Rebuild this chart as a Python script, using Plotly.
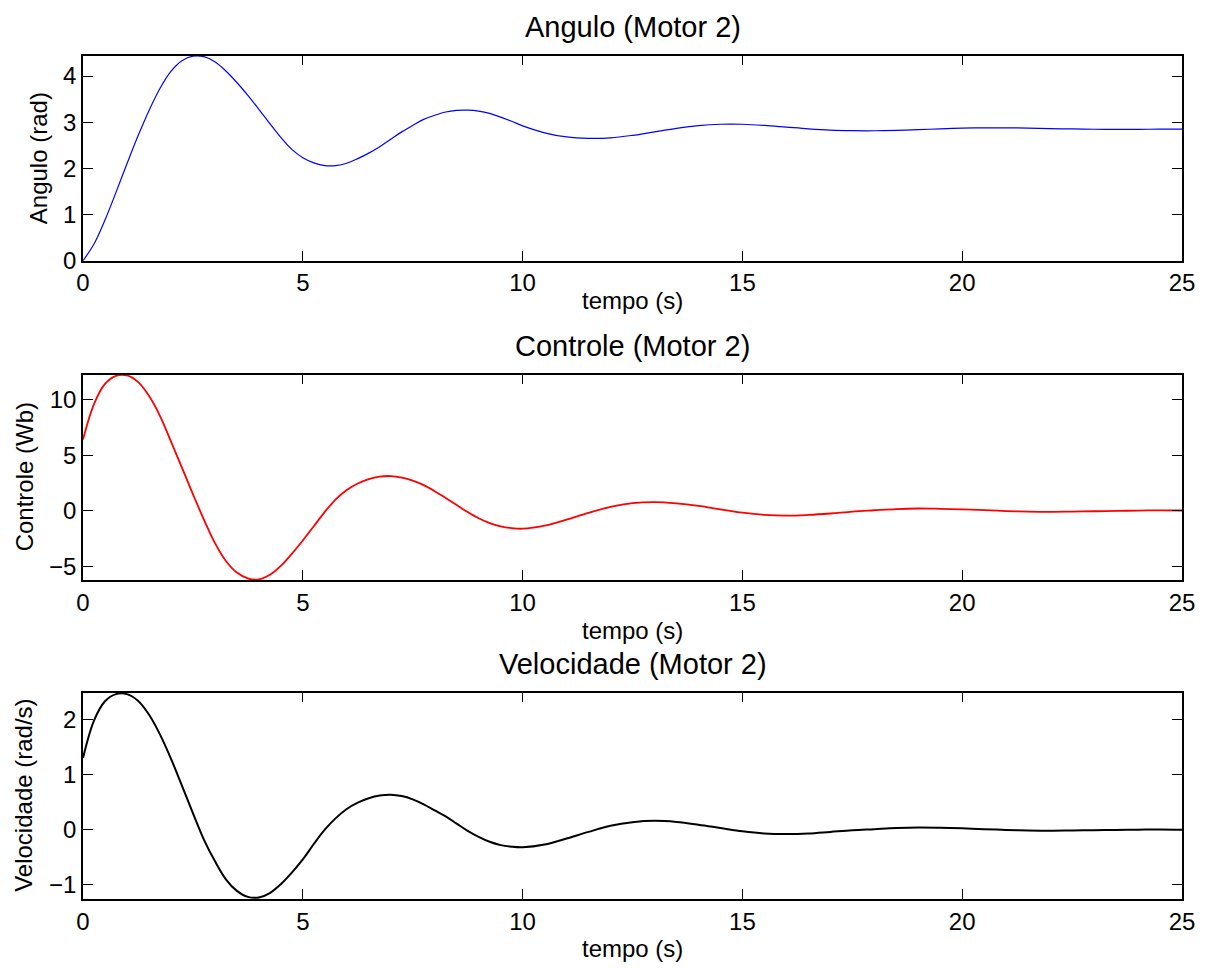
import plotly.graph_objects as go

# ---------------- data ----------------
# time samples: 0.25 s up to 10 s, 0.5 s afterwards
tempo = [0, 0.25, 0.5, 0.75, 1.0, 1.25, 1.5, 1.75, 2.0, 2.25, 2.5, 2.75, 3.0, 3.25, 3.5,
         3.75, 4.0, 4.25, 4.5, 4.75, 5.0, 5.25, 5.5, 5.75, 6.0, 6.25, 6.5, 6.75, 7.0,
         7.25, 7.5, 7.75, 8.0, 8.25, 8.5, 8.75, 9.0, 9.25, 9.5, 9.75, 10.0, 10.5, 11.0,
         11.5, 12.0, 12.5, 13.0, 13.5, 14.0, 14.5, 15.0, 15.5, 16.0, 16.5, 17.0, 17.5,
         18.0, 18.5, 19.0, 19.5, 20.0, 20.5, 21.0, 21.5, 22.0, 22.5, 23.0, 23.5, 24.0,
         24.5, 25.0]

angulo = [0, 0.36, 0.88, 1.48, 2.10, 2.70, 3.25, 3.73, 4.10, 4.33, 4.43, 4.42, 4.31, 4.11,
          3.86, 3.58, 3.28, 2.97, 2.67, 2.41, 2.23, 2.12, 2.06, 2.06, 2.11, 2.21, 2.33,
          2.47, 2.63, 2.79, 2.93, 3.06, 3.15, 3.22, 3.255, 3.26, 3.24, 3.19, 3.11, 3.02,
          2.92, 2.77, 2.68, 2.65, 2.66, 2.715, 2.79, 2.865, 2.925, 2.955, 2.955, 2.93,
          2.893, 2.856, 2.828, 2.816, 2.814, 2.822, 2.838, 2.856, 2.87, 2.878, 2.878,
          2.872, 2.862, 2.853, 2.847, 2.844, 2.845, 2.848, 2.85]

controle = [6.41, 9.6, 11.42, 12.15, 12.18, 11.6, 10.35, 8.55, 6.25, 3.88, 1.5, -0.8,
            -2.9, -4.53, -5.57, -6.1, -6.19, -5.77, -4.97, -3.88, -2.68, -1.4, -0.1, 1.03,
            1.86, 2.45, 2.85, 3.07, 3.12, 2.98, 2.71, 2.3, 1.76, 1.15, 0.52, -0.12, -0.68,
            -1.11, -1.4, -1.57, -1.62, -1.35, -0.8, -0.2, 0.34, 0.68, 0.78, 0.66, 0.43,
            0.12, -0.18, -0.38, -0.45, -0.38, -0.25, -0.08, 0.04, 0.15, 0.2, 0.17, 0.12,
            0.05, -0.03, -0.08, -0.1, -0.08, -0.05, -0.02, 0.01, 0.03, 0.02]

velocidade = [1.30, 1.98, 2.33, 2.46, 2.46, 2.34, 2.09, 1.73, 1.29, 0.80, 0.30, -0.18,
              -0.57, -0.90, -1.11, -1.22, -1.23, -1.15, -0.99, -0.78, -0.54, -0.26, 0.0,
              0.21, 0.375, 0.49, 0.57, 0.62, 0.635, 0.61, 0.55, 0.46, 0.35, 0.24, 0.11,
              -0.02, -0.13, -0.22, -0.28, -0.31, -0.32, -0.27, -0.16, -0.04, 0.07, 0.135,
              0.16, 0.14, 0.09, 0.03, -0.03, -0.07, -0.08, -0.07, -0.04, -0.01, 0.01,
              0.03, 0.04, 0.035, 0.025, 0.01, -0.005, -0.015, -0.02, -0.015, -0.01,
              -0.005, 0.0, 0.005, 0.0]

x_ticks = [0, 5, 10, 15, 20, 25]
ang_ticks = [0, 1, 2, 3, 4]
ctl_ticks = [-5, 0, 5, 10]
vel_ticks = [-1, 0, 1, 2]

titles = ["Angulo (Motor 2)", "Controle (Motor 2)", "Velocidade (Motor 2)"]
ylabels = ["Angulo (rad)", "Controle (Wb)", "Velocidade (rad/s)"]
xlabel = "tempo (s)"

# ---------------- figure ----------------
FONT = "Liberation Sans, Arial, Helvetica, sans-serif"
W, H = 1207, 968

fig = go.Figure()
fig.add_trace(go.Scatter(x=tempo, y=angulo, mode="lines",
                         line=dict(color="#0000ff", width=1.2, shape="spline"),
                         xaxis="x", yaxis="y", showlegend=False))
fig.add_trace(go.Scatter(x=tempo, y=controle, mode="lines",
                         line=dict(color="#ff0000", width=1.8, shape="spline"),
                         xaxis="x2", yaxis="y2", showlegend=False))
fig.add_trace(go.Scatter(x=tempo, y=velocidade, mode="lines",
                         line=dict(color="#000000", width=2.0, shape="spline"),
                         xaxis="x3", yaxis="y3", showlegend=False))

x_left, x_right = 83, 1182
panels = [(55.7, 260.7), (374.7, 580.0), (692.7, 899.0)]
yranges = [[0, 4.44], [-6.24, 12.25], [-1.258, 2.486]]
yticks = [ang_ticks, ctl_ticks, vel_ticks]
xlab_off = [40, 50, 49]
ylab_x = [38, 24, 24]

common = dict(ticks="inside", ticklen=10, tickwidth=1, tickcolor="black",
              showline=True, linecolor="black", linewidth=1.5, mirror="ticks",
              showgrid=False, zeroline=False, automargin=False,
              tickfont=dict(family=FONT, size=24, color="black"))

layout = dict(template="none", width=W, height=H,
              margin=dict(l=0, r=0, t=0, b=0, pad=0, autoexpand=False),
              paper_bgcolor="white", plot_bgcolor="white",
              font=dict(family=FONT, color="black"), showlegend=False)

ann = []
for i, ((top, bot), yr, yt) in enumerate(zip(panels, yranges, yticks)):
    sfx = "" if i == 0 else str(i + 1)
    dom_y = [1 - bot / H, 1 - top / H]
    layout["xaxis" + sfx] = dict(domain=[x_left / W, x_right / W], range=[0, 25],
                                 tickmode="array", tickvals=x_ticks,
                                 anchor="y" + sfx, **common)
    layout["yaxis" + sfx] = dict(domain=dom_y, range=yr, tickmode="array", tickvals=yt,
                                 anchor="x" + sfx, **common)
    ann.append(dict(text=titles[i], x=(x_left + x_right) / 2 / W, y=1 - (top - 29) / H,
                    xref="paper", yref="paper", xanchor="center", yanchor="middle",
                    showarrow=False, font=dict(family=FONT, size=29, color="black")))
    ann.append(dict(text=xlabel, x=(x_left + x_right) / 2 / W, y=1 - (bot + xlab_off[i]) / H,
                    xref="paper", yref="paper", xanchor="center", yanchor="middle",
                    showarrow=False, font=dict(family=FONT, size=24, color="black")))
    ann.append(dict(text=ylabels[i], x=ylab_x[i] / W, y=1 - (top + bot) / 2 / H,
                    xref="paper", yref="paper", xanchor="center", yanchor="middle",
                    textangle=-90, showarrow=False,
                    font=dict(family=FONT, size=24, color="black")))

layout["annotations"] = ann
fig.update_layout(**layout)
fig.write_html("out.html")
